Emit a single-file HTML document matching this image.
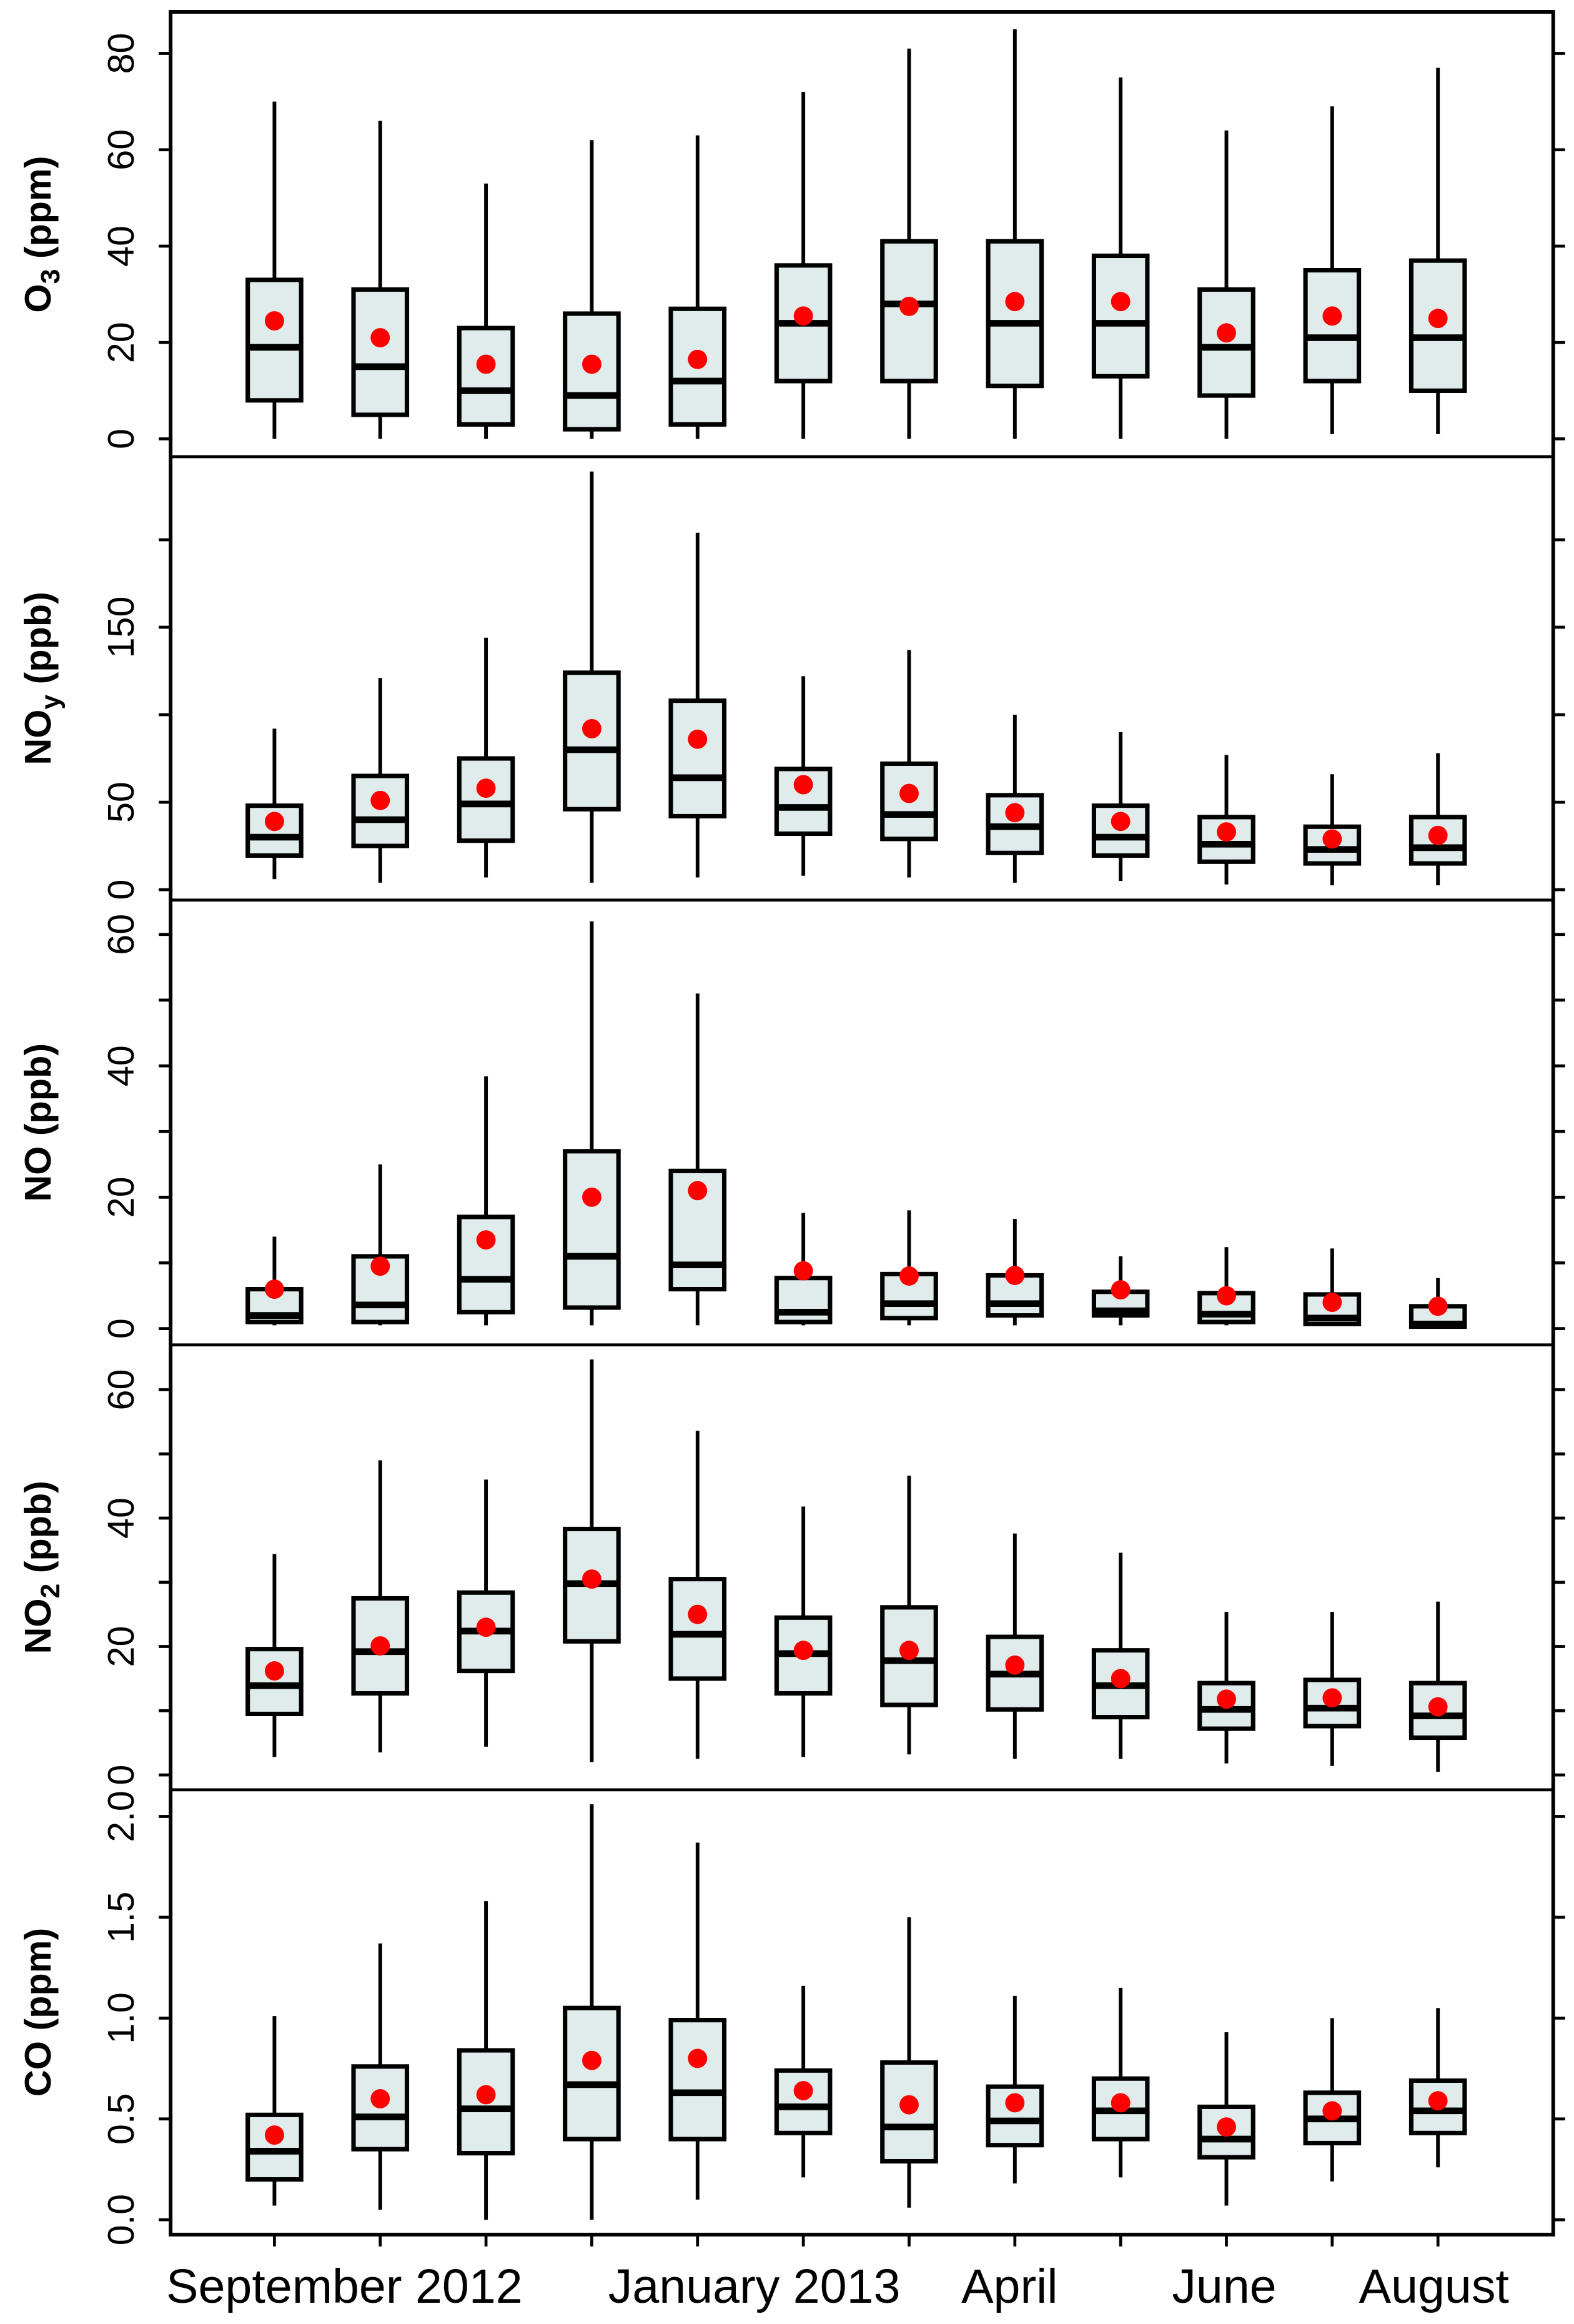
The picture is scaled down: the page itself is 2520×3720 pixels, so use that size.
<!DOCTYPE html>
<html><head><meta charset="utf-8"><style>
html,body{margin:0;padding:0;background:#fff}
svg{display:block}
text{font-family:"Liberation Sans",sans-serif;fill:#000}
</style></head><body>
<svg id="chart" width="2520" height="3720" viewBox="0 0 1061 1567.3" preserveAspectRatio="none" xmlns="http://www.w3.org/2000/svg"></svg>
<script>
const months = ["Sep 2012","Oct 2012","Nov 2012","Dec 2012","Jan 2013","Feb 2013","Mar 2013","Apr 2013","May 2013","Jun 2013","Jul 2013","Aug 2013"];
const xLabels = ["September 2012","January 2013","April","June","August"];
const xLabelStart = [112,410,648,790,916];

const o3Lo=[0,0,0,0,0,0,0,0,0,0,1,1];
const o3Q1=[8,5,3,2,3,12,12,11,13,9,12,10];
const o3Med=[19,15,10,9,12,24,28,24,24,19,21,21];
const o3Q3=[33,31,23,26,27,36,41,41,38,31,35,37];
const o3Hi=[70,66,53,62,63,72,81,85,75,64,69,77];
const o3Mean=[24.5,21,15.5,15.5,16.5,25.5,27.5,28.5,28.5,22,25.5,25];

const noyLo=[6,4,7,4,7,8,7,4,5,3,2.5,2.5];
const noyQ1=[19.5,25,28,46,42,32,29,21,19.5,16,15,15];
const noyMed=[30,40,49,80,64,47,43,36,30,26,23,24];
const noyQ3=[48,65,75,124,108,69,72,54,48,41.5,36,41.5];
const noyHi=[92,121,144,239,204,122,137,100,90,77,66,78];
const noyMean=[39,51,58,92,86,60,55,44,39,33,29,31];

const noLo=[0.5,0.5,0.5,0.5,0.5,0.5,0.5,0.5,0.5,0.5,0.5,0.3];
const noQ1=[1,1,2.5,3.2,6,1,1.6,2,2,1,0.7,0.3];
const noMed=[2,3.6,7.5,11,9.7,2.5,3.8,3.8,2.7,2.2,1.6,0.7];
const noQ3=[6,11,17,27,24,7.7,8.3,8.1,5.6,5.4,5.2,3.4];
const noHi=[14,25,38.4,62,51,17.6,18,16.7,11,12.4,12.2,7.7];
const noMean=[6,9.5,13.5,20,21,8.8,8,8.1,5.9,5,4,3.4];

const no2Lo=[2.8,3.5,4.4,2,2.5,2.8,3.2,2.5,2.5,1.8,1.4,0.5];
const no2Q1=[9.5,12.7,16.2,20.8,15,12.7,10.9,10.2,9,7.2,7.6,5.8];
const no2Med=[13.9,19.2,22.4,29.8,21.9,18.9,17.8,15.7,13.9,10.2,10.4,9.2];
const no2Q3=[19.6,27.5,28.4,38.3,30.5,24.5,26.1,21.5,19.4,14.3,14.8,14.3];
const no2Hi=[34.4,49,46,64.7,53.6,41.8,46.6,37.6,34.6,25.4,25.4,27];
const no2Mean=[16.2,20.1,23,30.5,25,19.4,19.4,17.1,15,11.8,12,10.6];

const coLo=[0.07,0.05,0,0,0.1,0.21,0.06,0.18,0.21,0.07,0.19,0.26];
const coQ1=[0.2,0.35,0.33,0.4,0.4,0.43,0.29,0.37,0.4,0.31,0.38,0.43];
const coMed=[0.34,0.51,0.55,0.67,0.63,0.56,0.46,0.49,0.54,0.4,0.5,0.54];
const coQ3=[0.52,0.76,0.84,1.05,0.99,0.74,0.78,0.66,0.7,0.56,0.63,0.69];
const coHi=[1.01,1.37,1.58,2.06,1.87,1.16,1.5,1.11,1.15,0.93,1.0,1.05];
const coMean=[0.42,0.6,0.62,0.79,0.8,0.64,0.57,0.58,0.58,0.46,0.54,0.59];

const o3Ticks=[0,20,40,60,80], o3Labels=["0","20","40","60","80"];
const noyTicks=[0,50,100,150,200], noyLabels=["0","50","","150",""];
const noTicks=[0,10,20,30,40,50,60], noLabels=["0","","20","","40","","60"];
const no2Ticks=[0,10,20,30,40,50,60], no2Labels=["0","","20","","40","","60"];
const coTicks=[0,0.5,1.0,1.5,2.0], coLabels=["0.0","0.5","1.0","1.5","2.0"];

const NS="http://www.w3.org/2000/svg";
const svg=document.getElementById("chart");
function mk(tag,attrs,parent){const e=document.createElementNS(NS,tag);for(const k in attrs)e.setAttribute(k,attrs[k]);(parent||svg).appendChild(e);return e;}
const L=115,R=1047;
function xs(i){return 185+i*71.3;}

const panels=[
 {key:"o3",title:["O","3"," (ppm)"],top:8,bot:308,z:296,k:3.25,lo:o3Lo,q1:o3Q1,med:o3Med,q3:o3Q3,hi:o3Hi,mean:o3Mean,ticks:o3Ticks,labels:o3Labels},
 {key:"noy",title:["NO","y"," (ppb)"],top:308,bot:607,z:600,k:1.18,lo:noyLo,q1:noyQ1,med:noyMed,q3:noyQ3,hi:noyHi,mean:noyMean,ticks:noyTicks,labels:noyLabels},
 {key:"no",title:["NO (ppb)","",""],top:607,bot:907,z:896,k:4.43,lo:noLo,q1:noQ1,med:noMed,q3:noQ3,hi:noHi,mean:noMean,ticks:noTicks,labels:noLabels},
 {key:"no2",title:["NO","2"," (ppb)"],top:907,bot:1207,z:1197,k:4.33,lo:no2Lo,q1:no2Q1,med:no2Med,q3:no2Q3,hi:no2Hi,mean:no2Mean,ticks:no2Ticks,labels:no2Labels},
 {key:"co",title:["CO (ppm)","",""],top:1207,bot:1507,z:1497,k:136,lo:coLo,q1:coQ1,med:coMed,q3:coQ3,hi:coHi,mean:coMean,ticks:coTicks,labels:coLabels}
];

panels.forEach(p=>{
  const g=mk("g",{});
  
  
  const ys=v=>p.z-v*p.k;
  p.ticks.forEach((t,j)=>{
    const y=ys(t);
    const tl=mk("line",{x1:L-8,x2:L,y1:y,y2:y,stroke:"#000","stroke-width":2},g);
    
    
    const tr=mk("line",{x1:R,x2:R+8,y1:y,y2:y,stroke:"#000","stroke-width":2},g);
    
    
    if(p.labels[j]){
      const tx=mk("text",{x:0,y:0,transform:`translate(90,${y}) rotate(-90)`,"text-anchor":"middle","font-size":25},g);
      tx.textContent=p.labels[j];
      
      
    }
  });
  const cy=(p.top+p.bot)/2;
  const tt=mk("text",{x:0,y:0,transform:`translate(34,${cy}) rotate(-90)`,"text-anchor":"middle","font-size":25,"font-weight":"bold"},g);
  
  
  const s1=mk("tspan",{},tt);s1.textContent=p.title[0];
  if(p.title[1]){const s2=mk("tspan",{"font-size":18,dy:6},tt);s2.textContent=p.title[1];const s3=mk("tspan",{dy:-6},tt);s3.textContent=p.title[2];}
  months.forEach((m,i)=>{
    const x=xs(i),hw=18;
    const bg=mk("g",{},g);
    
    
    mk("line",{x1:x,x2:x,y1:ys(p.hi[i]),y2:ys(p.q3[i]),stroke:"#000","stroke-width":2.5},bg);
    mk("line",{x1:x,x2:x,y1:ys(p.q1[i]),y2:ys(p.lo[i]),stroke:"#000","stroke-width":2.5},bg);
    mk("rect",{x:x-hw,y:ys(p.q3[i]),width:2*hw,height:ys(p.q1[i])-ys(p.q3[i]),fill:"#e0eceb",stroke:"#000","stroke-width":3},bg);
    mk("line",{x1:x-hw,x2:x+hw,y1:ys(p.med[i]),y2:ys(p.med[i]),stroke:"#000","stroke-width":4.5},bg);
    const c=mk("ellipse",{cx:x,cy:ys(p.mean[i]),rx:6.5,ry:6.5,fill:"#ff0000"},bg);
    
    
  });
  if(p.key!=="o3"){
    const d=mk("line",{x1:L,x2:R,y1:p.top,y2:p.top,stroke:"#000","stroke-width":2},g);
    
    
  }
});
const fr=mk("rect",{x:L,y:8,width:R-L,height:1507-8,fill:"none",stroke:"#000","stroke-width":2.5});


months.forEach((m,i)=>{
  const t=mk("line",{x1:xs(i),x2:xs(i),y1:1507,y2:1515,stroke:"#000","stroke-width":2});
  
  
});
xLabels.forEach((lab,j)=>{
  const t=mk("text",{x:xLabelStart[j],y:1553,"font-size":32.5});
  t.textContent=lab;
  
  
});
</script>
</body></html>
